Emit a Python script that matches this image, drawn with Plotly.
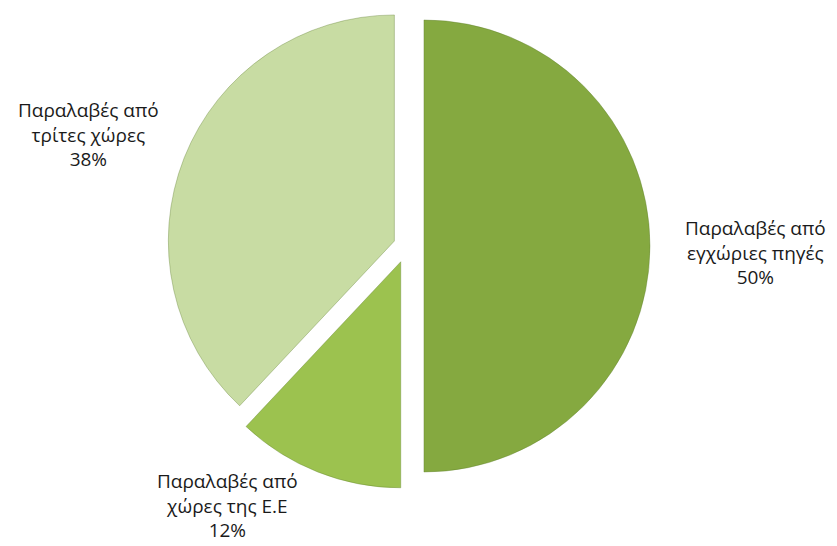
import plotly.graph_objects as go

labels = ["Παραλαβές από εγχώριες πηγές", "Παραλαβές από χώρες της Ε.Ε", "Παραλαβές από τρίτες χώρες"]
label_lines = [["Παραλαβές από", "εγχώριες πηγές"], ["Παραλαβές από", "χώρες της Ε.Ε"], ["Παραλαβές από", "τρίτες χώρες"]]
values = [50, 12, 38]
colors = ["#85a940", "#9cc24f", "#c8dca3"]
pulls = [0.075, 0.075, 0.06]

W, H = 837, 546
cx, cy, half = 407, 246, 243
fig = go.Figure(go.Pie(
    labels=labels,
    values=values,
    sort=False,
    direction="clockwise",
    rotation=0,
    pull=pulls,
    marker=dict(colors=colors, line=dict(color="rgba(90,120,40,0.35)", width=1)),
    textinfo="none",
    hoverinfo="label+percent",
    showlegend=False,
    domain=dict(x=[(cx - half) / W, (cx + half) / W], y=[1 - (cy + half) / H, 1 - (cy - half) / H]),
))

total = sum(values)
label_pos = [(755, 252), (227, 505), (88, 134)]
for lines, v, (px, py) in zip(label_lines, values, label_pos):
    txt = "<br>".join(lines + [f"{round(100 * v / total)}%"])
    fig.add_annotation(
        x=px / W, y=1 - py / H, xref="paper", yref="paper",
        text=txt, showarrow=False, align="center",
        xanchor="center", yanchor="middle",
        font=dict(family="Open Sans, Noto Sans, sans-serif", size=19, color="#1a1a1a"),
    )

fig.update_layout(
    width=W, height=H,
    margin=dict(l=0, r=0, t=0, b=0),
    paper_bgcolor="white",
    plot_bgcolor="white",
)

fig.write_html("out.html", config={"displayModeBar": False},
               post_script="document.body.style.margin='0px';")
